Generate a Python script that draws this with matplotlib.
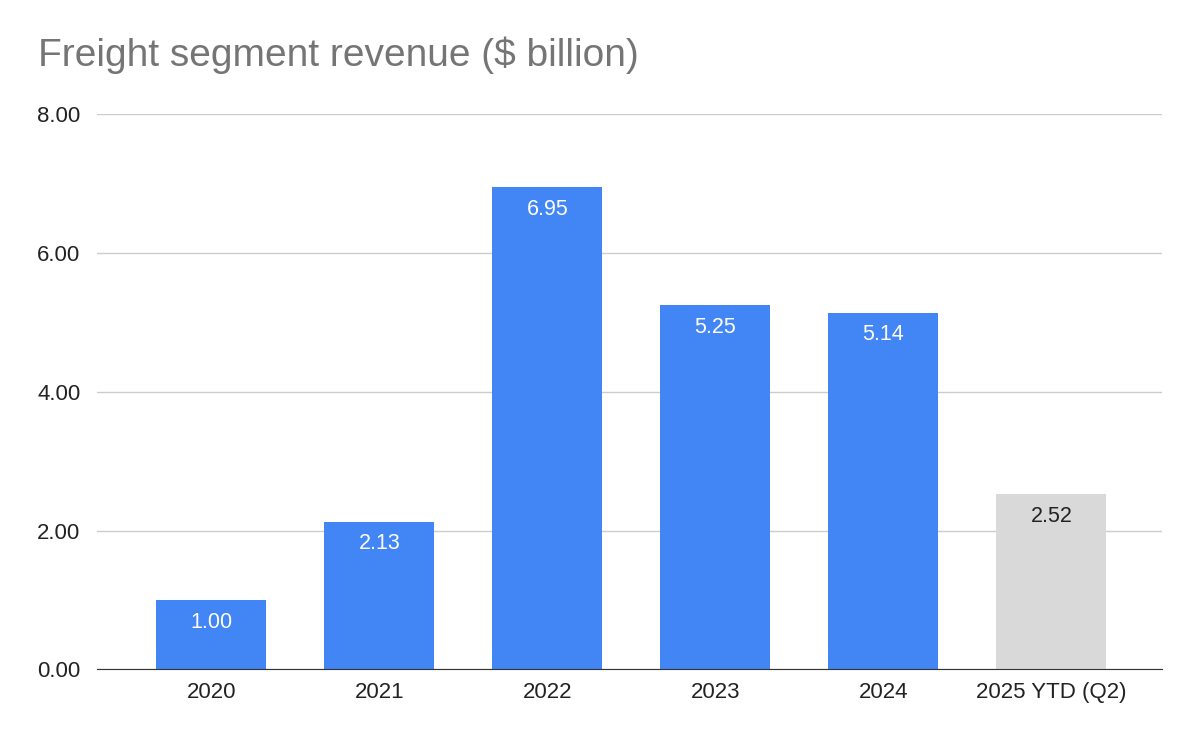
import matplotlib.pyplot as plt
import numpy as np

# Datos del grafico
years = ['2020', '2021', '2022', '2023', '2024', '2025 YTD (Q2)']
revenue = [1.00, 2.13, 6.95, 5.25, 5.14, 2.52]
bar_colors = ['#4285f4'] * 5 + ['#d9d9d9']
text_colors = ['white'] * 5 + ['#222222']

plt.rcParams['font.family'] = ['Liberation Sans', 'DejaVu Sans']

fig = plt.figure(figsize=(12, 7.42), dpi=100)
ax = fig.add_axes([0.081, 0.098, 0.8875, 0.748])

x = np.arange(len(years))
bars = ax.bar(x, revenue, width=0.655, color=bar_colors, zorder=3)

# Etiquetas de valores dentro de las barras
for bar, value, tc in zip(bars, revenue, text_colors):
    ax.text(bar.get_x() + bar.get_width() / 2, value - 0.17, f'{value:.2f}',
            ha='center', va='top', fontsize=15.5, color=tc, zorder=4)

ax.set_xlim(-0.68, len(years) - 0.34)
ax.set_ylim(0, 8)
ax.set_yticks([0, 2, 4, 6, 8])
ax.set_yticklabels([f'{v:.2f}' for v in [0, 2, 4, 6, 8]])
ax.set_xticks(x)
ax.set_xticklabels(years)
ax.tick_params(axis='both', length=0, labelsize=16, colors='#222222')
ax.tick_params(axis='y', pad=12)
ax.tick_params(axis='x', pad=9)
ax.grid(axis='y', color='#cccccc', linewidth=1, zorder=0)
for side in ['top', 'right', 'left']:
    ax.spines[side].set_visible(False)
ax.spines['bottom'].set_color('#333333')
ax.spines['bottom'].set_zorder(5)

fig.text(0.032, 0.925, 'Freight segment revenue ($ billion)', fontsize=28,
         color='#757575', ha='left', va='center')

plt.savefig('out.png', dpi=100)
plt.close(fig)
